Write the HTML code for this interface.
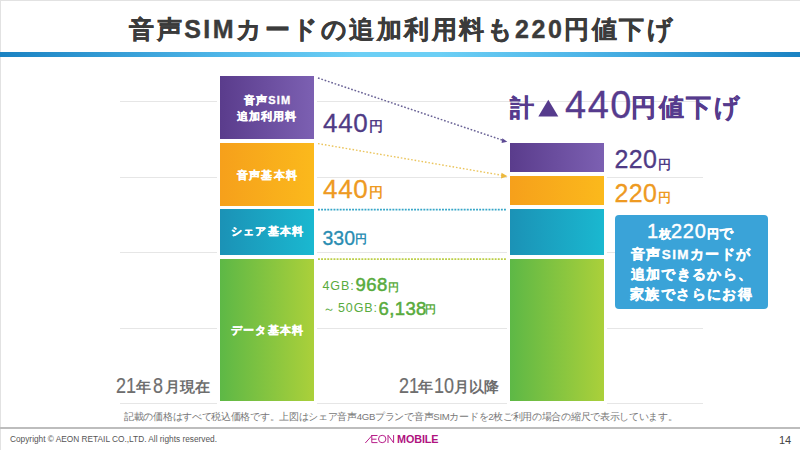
<!DOCTYPE html>
<html lang="ja">
<head>
<meta charset="utf-8">
<style>
*{margin:0;padding:0;box-sizing:border-box}
html,body{width:800px;height:450px;overflow:hidden;background:#fff}
body{position:relative;font-family:"Liberation Sans",sans-serif}
.a{position:absolute;white-space:nowrap}
.bt{position:absolute;left:0;top:0;width:800px;height:1px;background:#e2e2e2}
.bl{position:absolute;left:0;top:0;width:1px;height:450px;background:#e2e2e2}
.title{left:0;width:802px;top:13px;text-align:center;font-size:25px;font-weight:bold;color:#3b3b3b;line-height:32px;letter-spacing:2.5px;text-indent:2.5px;-webkit-text-stroke:0.4px #3b3b3b}
.bar{position:absolute;left:0;top:52px;width:800px;height:5px;background:linear-gradient(90deg,#1a82c2 0%,#4fb6e8 28%,#6ccff5 45%,#6ccff5 55%,#4fb6e8 72%,#1a82c2 100%)}
.g{position:absolute;height:1px;background:#e6e6e6}
.seg{position:absolute}
.pu{background:linear-gradient(90deg,#5a3c8c,#7c60b2)}
.or{background:linear-gradient(90deg,#f6a01b,#fbb91c)}
.te{background:linear-gradient(90deg,#1b92b6,#1ab8d0)}
.gr{background:linear-gradient(90deg,#5db846,#abd03a)}
.lbl{color:#fff;font-weight:bold;font-size:11px;text-align:center;line-height:16px;letter-spacing:1.2px;text-indent:1.2px;-webkit-text-stroke:0.3px #fff}
.num{font-size:25px;line-height:26px}
.yen{font-size:13px}
.gt{color:#58ab3d}
.pd{color:#6e6e6e;font-size:22.5px;line-height:26px;transform:scaleX(0.8);transform-origin:0 0;-webkit-text-stroke:0.2px #6e6e6e}
.pc{color:#6e6e6e;font-size:14.5px;line-height:18px;font-weight:bold}
.cl{color:#fff;font-weight:bold;font-size:13.5px;line-height:19px;letter-spacing:1.4px;-webkit-text-stroke:0.35px #fff}
</style>
</head>
<body>
<div class="bt"></div><div class="bl"></div>
<div class="a title">音声SIMカードの追加利用料も220円値下げ</div>
<div class="bar"></div>

<!-- grid lines -->
<div class="g" style="left:120px;top:101px;width:97px"></div>
<div class="g" style="left:317px;top:101px;width:386px"></div>
<div class="g" style="left:120px;top:177px;width:97px"></div>
<div class="g" style="left:317px;top:177px;width:190px"></div>
<div class="g" style="left:607px;top:177px;width:96px"></div>
<div class="g" style="left:120px;top:252px;width:97px"></div>
<div class="g" style="left:317px;top:252px;width:190px"></div>
<div class="g" style="left:607px;top:252px;width:96px"></div>
<div class="g" style="left:120px;top:328px;width:97px"></div>
<div class="g" style="left:317px;top:328px;width:190px"></div>
<div class="g" style="left:607px;top:328px;width:96px"></div>
<div class="g" style="left:120px;top:403px;width:97px"></div>
<div class="g" style="left:317px;top:403px;width:190px"></div>
<div class="g" style="left:607px;top:403px;width:96px"></div>

<!-- left bar -->
<div class="seg pu" style="left:220px;top:76px;width:94px;height:63px"></div>
<div class="seg or" style="left:220px;top:143px;width:94px;height:63px"></div>
<div class="seg te" style="left:220px;top:209px;width:94px;height:46px"></div>
<div class="seg gr" style="left:220px;top:259px;width:94px;height:142px"></div>

<!-- right bar -->
<div class="seg pu" style="left:510px;top:143px;width:94px;height:29px"></div>
<div class="seg or" style="left:510px;top:176px;width:94px;height:29px"></div>
<div class="seg te" style="left:510px;top:209px;width:94px;height:46px"></div>
<div class="seg gr" style="left:510px;top:259px;width:94px;height:142px"></div>


<!-- dotted lines -->
<svg class="a" style="left:0;top:0" width="800" height="450" viewBox="0 0 800 450">
<line x1="318" y1="78" x2="502" y2="140" stroke="#6a6396" stroke-width="1.5" stroke-dasharray="1.7 1.8"/>
<polygon points="502.3,138.2 507.3,141.8 501.6,143" fill="#5d4a94"/>
<line x1="318" y1="143.6" x2="502" y2="175.3" stroke="#ebc55e" stroke-width="1.4" stroke-dasharray="1.6 1.9"/>
<polygon points="501.5,172.8 507.5,176.2 501.0,178.6" fill="#ecb83c"/>
<line x1="318" y1="209.7" x2="507" y2="209.7" stroke="#36a6c8" stroke-width="1.8" stroke-dasharray="1.9 1.2"/>
<line x1="318" y1="259.2" x2="507" y2="259.2" stroke="#bccf48" stroke-width="1.8" stroke-dasharray="1.9 1.2"/>
</svg>

<!-- bar labels -->
<div class="a lbl" style="left:220px;top:92px;width:94px">音声SIM<br>追加利用料</div>
<div class="a lbl" style="left:220px;top:167px;width:94px">音声基本料</div>
<div class="a lbl" style="left:220px;top:223px;width:94px">シェア基本料</div>
<div class="a lbl" style="left:220px;top:322px;width:94px">データ基本料</div>

<!-- amounts left -->
<div class="a num" style="left:323px;top:110px;color:#4f3b85;font-size:26px;letter-spacing:0.7px;-webkit-text-stroke:0.3px #4f3b85">440</div><div class="a" style="left:369px;top:119px;color:#4f3b85;font-size:13.5px;line-height:16px;font-weight:bold">円</div>
<div class="a num" style="left:323px;top:176px;color:#ee9a22;font-size:26px;letter-spacing:0.7px;-webkit-text-stroke:0.3px #ee9a22">440</div><div class="a" style="left:369px;top:185px;color:#ee9a22;font-size:13.5px;line-height:16px;font-weight:bold">円</div>
<div class="a num" style="left:322.5px;top:224.5px;color:#2a8db2;font-size:19.5px;letter-spacing:0px;-webkit-text-stroke:0.3px #2a8db2">330</div><div class="a" style="left:355px;top:231px;color:#2a8db2;font-size:11.5px;line-height:16px;font-weight:bold">円</div>
<div class="a gt" style="left:322.5px;top:280px;font-size:12.5px;line-height:12px;letter-spacing:0.9px">4GB:</div>
<div class="a gt" style="left:355.5px;top:276px;font-size:18.5px;line-height:18px;letter-spacing:0.4px;-webkit-text-stroke:0.5px #58ab3d">968</div>
<div class="a gt" style="left:387.5px;top:281px;font-size:11px;line-height:12px;font-weight:bold">円</div>
<div class="a gt" style="left:322.5px;top:303px;font-size:12px;line-height:12px">～</div>
<div class="a gt" style="left:338px;top:301.5px;font-size:12.5px;line-height:12px;letter-spacing:0.9px">50GB:</div>
<div class="a gt" style="left:378.5px;top:299.5px;font-size:18.5px;line-height:18px;letter-spacing:0.4px;-webkit-text-stroke:0.5px #58ab3d">6,138</div>
<div class="a gt" style="left:424.5px;top:303px;font-size:11px;line-height:12px;font-weight:bold">円</div>


<!-- total -->
<div class="a" style="left:510px;top:90px;color:#563b8d;font-weight:bold;font-size:24px;line-height:36px;-webkit-text-stroke:0.4px #563b8d">計</div>
<svg class="a" style="left:0;top:0" width="800" height="450"><polygon points="538.3,116.5 548.3,99.7 558.3,116.5" fill="#563b8d"/></svg>
<div class="a" style="left:565px;top:86px;color:#563b8d;font-size:38px;line-height:38px;letter-spacing:1.5px;-webkit-text-stroke:0.3px #563b8d">440</div>
<div class="a" style="left:631px;top:90px;color:#563b8d;font-weight:bold;font-size:24.5px;line-height:36px;letter-spacing:2.6px;-webkit-text-stroke:0.4px #563b8d">円値下げ</div>

<!-- amounts right -->
<div class="a num" style="left:614.5px;top:146px;color:#4f3b85;font-size:25px;letter-spacing:0.3px;-webkit-text-stroke:0.3px #4f3b85">220</div><div class="a" style="left:658px;top:156.5px;color:#4f3b85;font-size:12.5px;line-height:16px;font-weight:bold">円</div>
<div class="a num" style="left:614.5px;top:179.5px;color:#ee9a22;font-size:25px;letter-spacing:0.3px;-webkit-text-stroke:0.3px #ee9a22">220</div><div class="a" style="left:658px;top:190px;color:#ee9a22;font-size:12.5px;line-height:16px;font-weight:bold">円</div>

<!-- callout -->
<div class="a" style="left:615px;top:215px;width:153px;height:94px;background:#3aa3d8;border-radius:4px"></div>
<div class="a cl" style="top:222px;left:647px;letter-spacing:0.8px"><span style="font-size:20px;font-weight:normal;-webkit-text-stroke:0.4px #fff">1</span><span style="font-size:12px;letter-spacing:0">枚</span><span style="font-size:20px;font-weight:normal;letter-spacing:0.8px;-webkit-text-stroke:0.4px #fff">220</span><span style="font-size:12px;letter-spacing:0">円</span>で</div>
<div class="a cl" style="top:245px;left:631px">音声SIMカードが</div>
<div class="a cl" style="top:265px;left:630.5px">追加できるから、</div>
<div class="a cl" style="top:285px;left:630px">家族でさらにお得</div>
<!-- period labels -->
<div class="a pd" style="left:116px;top:372.5px">21</div><div class="a pc" style="left:136px;top:378px">年</div><div class="a pd" style="left:152.5px;top:372.5px">8</div><div class="a pc" style="left:165px;top:378px">月現在</div>
<div class="a pd" style="left:398.5px;top:372.5px">21</div><div class="a pc" style="left:418px;top:378px">年</div><div class="a pd" style="left:434px;top:372.5px">10</div><div class="a pc" style="left:454px;top:378px">月以降</div>
<!-- footnote -->
<div class="a" style="left:124px;top:410.5px;color:#777;font-size:9.6px;line-height:12px;letter-spacing:-0.3px">記載の価格はすべて税込価格です。上図はシェア音声4GBプランで音声SIMカードを2枚ご利用の場合の縮尺で表示しています。</div>

<!-- footer -->
<div class="a" style="left:0;top:427px;width:800px;height:2px;background:#bdbdbd"></div>
<div class="a" style="left:10px;top:433px;color:#555;font-size:8.3px;line-height:12px">Copyright © AEON RETAIL CO.,LTD. All rights reserved.</div>
<svg class="a" style="left:360px;top:430px" width="40" height="18" viewBox="360 430 40 18"><g fill="none" stroke="#b8208a" stroke-width="1"><path d="M365.3 443 L372.3 435.2 M371.2 435.5 H377.5 M371.8 439.2 H376.5 M371.8 442.6 H377.5 M371.8 435.5 V442.6"/><circle cx="382.2" cy="439" r="3.7"/><path d="M388 443 V435.2 L393.6 442.8 V435"/></g></svg>
<div class="a" style="left:397px;top:432.5px;color:#b0137f;font-size:10.8px;line-height:13px;font-weight:bold;letter-spacing:-0.1px">MOBILE</div>
<div class="a" style="left:779px;top:434px;color:#444;font-size:11px;line-height:12px">14</div>

</body>
</html>
